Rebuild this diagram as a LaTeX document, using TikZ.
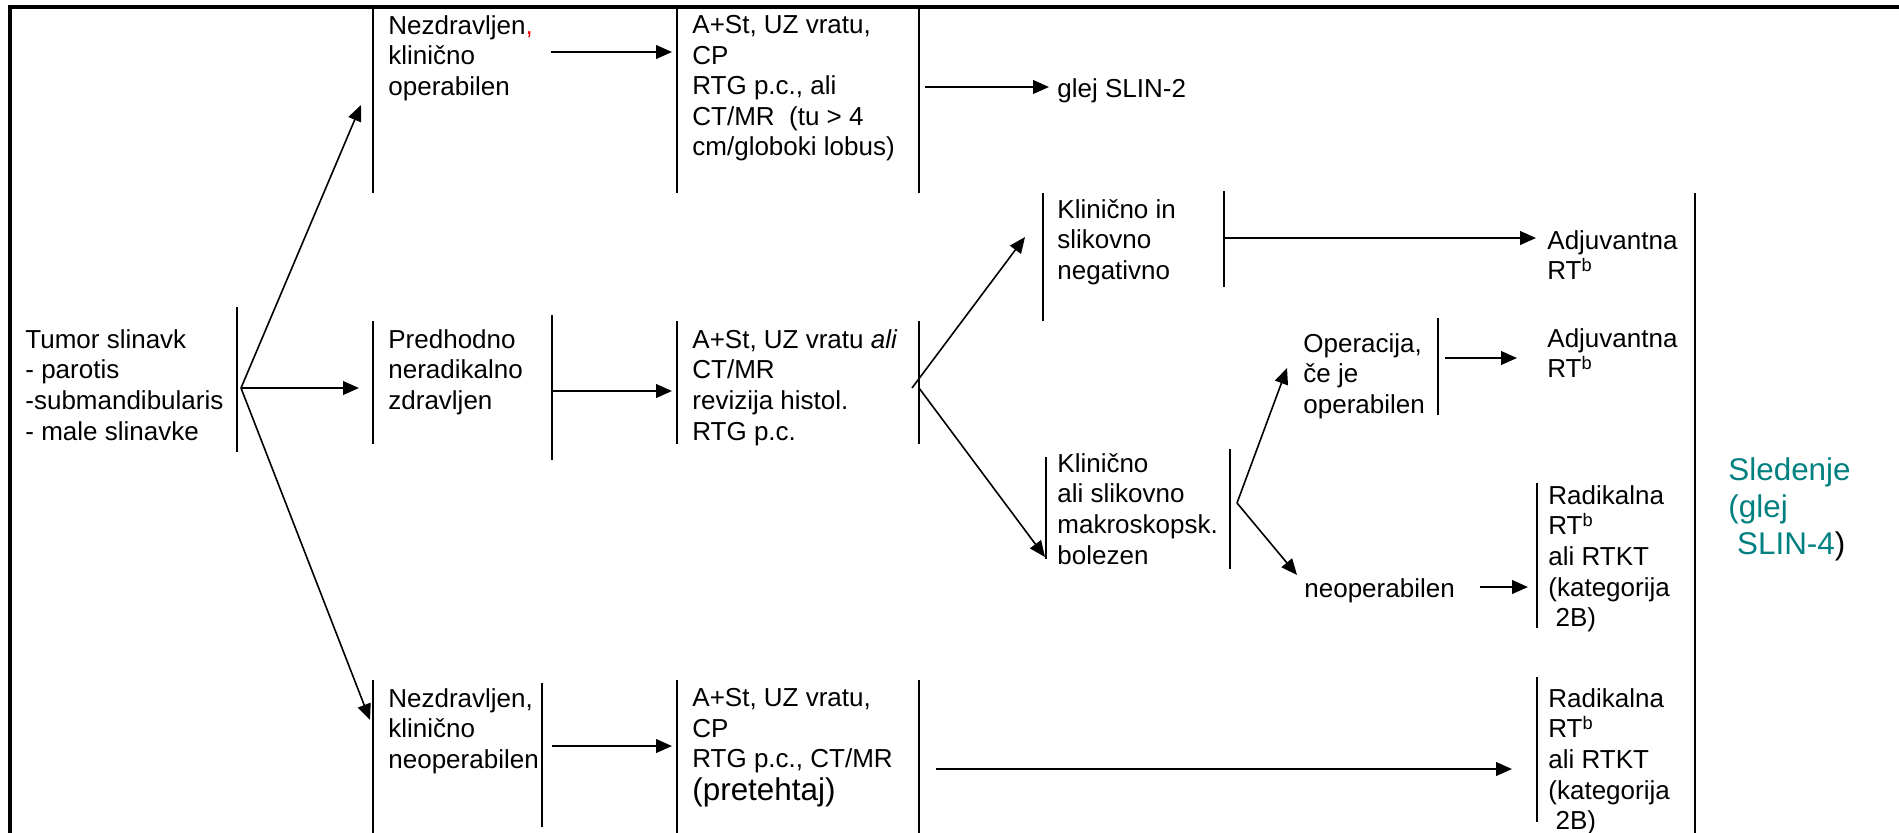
\documentclass[tikz,border=0pt]{standalone}
\usepackage{fontspec}
\setmainfont{Liberation Sans}
\usetikzlibrary{arrows.meta}
\definecolor{tealc}{RGB}{0,128,128}
\begin{document}
\begin{tikzpicture}[x=0.5pt,y=-0.5pt,
  txt/.style={anchor=north west,inner sep=0pt,align=left,font=\fontsize{13}{15.3}\selectfont},
  sledtxt/.style={anchor=north west,inner sep=0pt,align=left,text=tealc,font=\fontsize{15.7}{18.5}\selectfont},
  frameline/.style={line width=1.6pt},
  colline/.style={line width=1.15pt},
  thinline/.style={line width=0.8pt},
  arr/.style={line width=1.1pt,-{Triangle[length=8pt,width=6.8pt]}},
  darr/.style={line width=0.8pt,-{Triangle[length=8pt,width=6.8pt]}}]
\useasboundingbox (0,0) rectangle (1899,832);
\fill[white] (0,0) rectangle (1899,832);

% frame
\draw[frameline] (10,833) -- (10,7) -- (1900,7);

% text nodes
\node[txt] (tumor) at (25,329) {Tumor slinavk\\- parotis\\-submandibularis\\- male slinavke};
\node[txt] (nezop) at (388,15) {Nezdravljen\textcolor{red}{,}\\klinično\\operabilen};
\node[txt] (pred) at (388,329) {Predhodno\\neradikalno\\zdravljen};
\node[txt] (nezneop) at (388,688) {Nezdravljen,\\klinično\\neoperabilen};
\node[txt] (ast1) at (692,15) {A+St, UZ vratu,\\CP\\RTG p.c., ali\\CT/MR\ \ (tu > 4\\cm/globoki lobus)};
\node[txt] (ast2) at (692,329) {A+St, UZ vratu \textit{ali}\\CT/MR\\revizija histol.\\RTG p.c.};
\node[txt] (ast3) at (692,688) {A+St, UZ vratu,\\CP\\RTG p.c., CT/MR\\[1.3pt]{\fontsize{15.7}{15.3}\selectfont(pretehtaj)}};
\node[txt] (glej) at (1057,78) {glej SLIN-2};
\node[txt] (klin1) at (1057,199) {Klinično in\\slikovno\\negativno};
\node[txt] (klin2) at (1057,453) {Klinično\\ali slikovno\\makroskopsk.\\bolezen};
\node[txt] (oper) at (1303,333) {Operacija,\\če je\\operabilen};
\node[txt] (neop) at (1304,578) {neoperabilen};
\node[txt] (adj1) at (1547,230) {Adjuvantna\\RT\textsuperscript{b}};
\node[txt] (adj2) at (1547,328) {Adjuvantna\\RT\textsuperscript{b}};
\node[txt] (rad1) at (1548,485) {Radikalna\\RT\textsuperscript{b}\\ali RTKT\\(kategorija\\\mbox{}\ 2B)};
\node[txt] (rad2) at (1548,688) {Radikalna\\RT\textsuperscript{b}\\ali RTKT\\(kategorija\\\mbox{}\ 2B)};
\node[sledtxt] (sled) at (1728,457) {Sledenje\\(glej\\\mbox{}\ SLIN-4\textcolor{black}{)}};

% box side lines
\draw[thinline] (237,307) -- (237,452);
\draw[colline] (373,7) -- (373,193);
\draw[colline] (677,7) -- (677,193);
\draw[colline] (919,7) -- (919,193);
\draw[colline] (373,321) -- (373,444);
\draw[colline] (552,315) -- (552,460);
\draw[colline] (677,321) -- (677,444);
\draw[colline] (919,321) -- (919,444);
\draw[colline] (1043,193) -- (1043,321);
\draw[thinline] (1224,191) -- (1224,287);
\draw[thinline] (1046,457) -- (1046,559);
\draw[thinline] (1230,449) -- (1230,569);
\draw[thinline] (1438,318) -- (1438,415);
\draw[thinline] (1537,483) -- (1537,628);
\draw[thinline] (1537,677) -- (1537,822);
\draw[colline] (1695,193) -- (1695,833);
\draw[colline] (373,680) -- (373,833);
\draw[thinline] (542,683) -- (542,827);
\draw[colline] (677,680) -- (677,833);
\draw[colline] (919,680) -- (919,833);

% connector end points
\coordinate (tumorOut) at (241,388);
\coordinate (nezopIn) at (361,105);
\coordinate (predIn) at (359,388);
\coordinate (nezneopIn) at (370,720);
\coordinate (nezopOut) at (551,52);
\coordinate (ast1In) at (672,52);
\coordinate (predOut) at (552,391);
\coordinate (ast2In) at (672,391);
\coordinate (nezneopOut) at (552,746);
\coordinate (ast3In) at (672,746);
\coordinate (ast1Out) at (925,87);
\coordinate (glejIn) at (1049,87);
\coordinate (ast2OutA) at (912,388);
\coordinate (ast2OutB) at (919,388);
\coordinate (klin1In) at (1025,237);
\coordinate (klin2In) at (1045,557);
\coordinate (klin1Out) at (1224,238);
\coordinate (adj1In) at (1536,238);
\coordinate (klin2Out) at (1237,503);
\coordinate (operIn) at (1287,368);
\coordinate (neopIn) at (1297,575);
\coordinate (operOut) at (1445,358);
\coordinate (adj2In) at (1517,358);
\coordinate (neopOut) at (1480,587);
\coordinate (rad1In) at (1528,587);
\coordinate (ast3Out) at (936,769);
\coordinate (rad2In) at (1512,769);

% connectors
\draw[darr] (tumorOut) -- (nezopIn);
\draw[arr] (tumorOut) -- (predIn);
\draw[darr] (tumorOut) -- (nezneopIn);
\draw[arr] (nezopOut) -- (ast1In);
\draw[arr] (predOut) -- (ast2In);
\draw[arr] (nezneopOut) -- (ast3In);
\draw[arr] (ast1Out) -- (glejIn);
\draw[darr] (ast2OutA) -- (klin1In);
\draw[darr] (ast2OutB) -- (klin2In);
\draw[arr] (klin1Out) -- (adj1In);
\draw[darr] (klin2Out) -- (operIn);
\draw[darr] (klin2Out) -- (neopIn);
\draw[arr] (operOut) -- (adj2In);
\draw[arr] (neopOut) -- (rad1In);
\draw[arr] (ast3Out) -- (rad2In);
\end{tikzpicture}
\end{document}
